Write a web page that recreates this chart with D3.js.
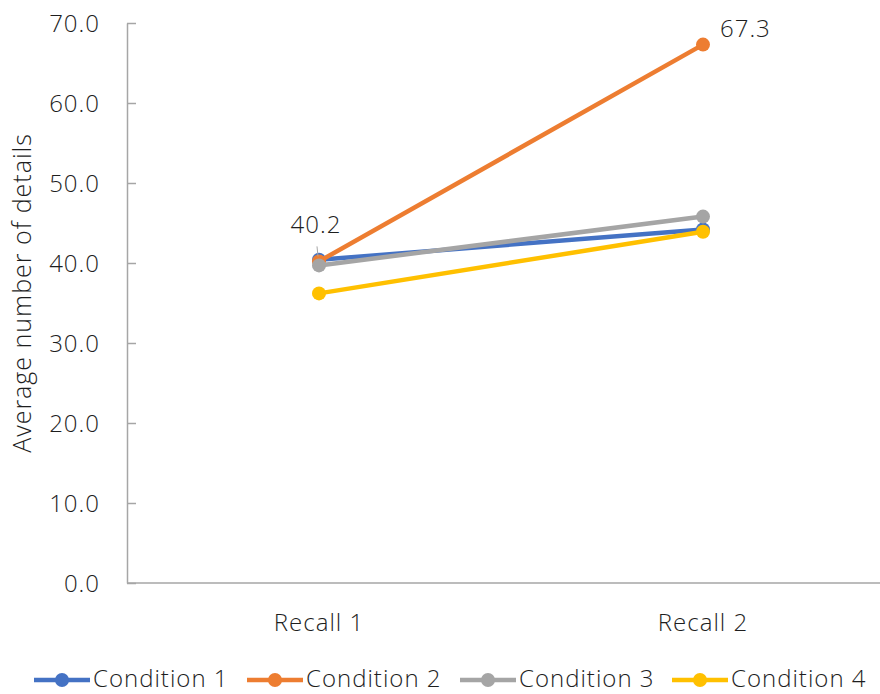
<!DOCTYPE html>
<html><head><meta charset="utf-8">
<script src="https://cdn.jsdelivr.net/npm/d3@7"></script>
<style>
body{margin:0;background:#fff;}
svg text{font-family:"Open Sans","Noto Sans",sans-serif;font-weight:300;fill:#1e1e1e;letter-spacing:1px;}
</style></head>
<body><svg id="chart" width="880" height="694"></svg>
<script>
const categories = ["Recall 1", "Recall 2"];
const seriesNames = ["Condition 1", "Condition 2", "Condition 3", "Condition 4"];
const condition1 = [40.4, 44.2];
const condition2 = [40.2, 67.3];
const condition3 = [39.7, 45.8];
const condition4 = [36.2, 43.9];
const yTicks = [0, 10, 20, 30, 40, 50, 60, 70];
const colors = ["#4472C4", "#ED7D31", "#A5A5A5", "#FFC000"];
const labelled = [{series: 1, index: 0, text: "40.2"}, {series: 1, index: 1, text: "67.3"}];

const series = [condition1, condition2, condition3, condition4].map((v, i) => ({name: seriesNames[i], values: v, color: colors[i]}));

const svg = d3.select("#chart");
const mLeft = 127, mRight = 895, mTop = 23, mBottom = 583;
const fs = 24;
const x = d3.scalePoint().domain(categories).range([mLeft, mRight]).padding(0.5);
const y = d3.scaleLinear().domain([0, 70]).range([mBottom, mTop]);

// x axis line
svg.append("line").attr("x1", mLeft).attr("x2", 880).attr("y1", mBottom).attr("y2", mBottom)
  .attr("stroke", "#A6A6A6").attr("stroke-width", 1.5);
// y axis
const yAxis = d3.axisLeft(y).tickValues(yTicks).tickFormat(d3.format(".1f")).tickSizeInner(-9).tickSizeOuter(0).tickPadding(27);
const gy = svg.append("g").attr("transform", `translate(${mLeft},0)`).call(yAxis);
gy.select(".domain").attr("stroke", "#A6A6A6").attr("stroke-width", 1.5);
gy.selectAll(".tick line").attr("stroke", "#A6A6A6").attr("stroke-width", 1.5);
gy.selectAll(".tick text").attr("font-size", fs).attr("dy", "0.34em").style("fill", "#1e1e1e");
gy.attr("font-family", null).attr("font-size", null);

// x labels
svg.append("g").selectAll("text").data(categories).join("text")
  .attr("x", d => x(d)).attr("y", 631).attr("text-anchor", "middle").attr("font-size", fs).text(d => d);

// y title
svg.append("text").attr("transform", `translate(31,293) rotate(-90)`)
  .attr("text-anchor", "middle").attr("font-size", 25).text("Average number of details");

// lines
const line = d3.line().x((d, i) => x(categories[i])).y(d => y(d));
series.forEach(s => {
  const g = svg.append("g");
  g.append("path").attr("d", line(s.values)).attr("fill", "none").attr("stroke", s.color)
    .attr("stroke-width", 4.5).attr("stroke-linecap", "round");
  g.selectAll("circle").data(s.values).join("circle")
    .attr("cx", (d, i) => x(categories[i])).attr("cy", d => y(d)).attr("r", 7).attr("fill", s.color);
});

// data labels
const l1 = labelled[0];
svg.append("line").attr("x1", x(categories[l1.index]) - 2).attr("y1", y(series[l1.series].values[l1.index]) - 15)
  .attr("x2", x(categories[l1.index]) - 1).attr("y2", y(series[l1.series].values[l1.index]) - 5)
  .attr("stroke", "#A6A6A6").attr("stroke-width", 1);
svg.append("text").attr("x", x(categories[l1.index]) - 3).attr("y", y(series[l1.series].values[l1.index]) - 28)
  .attr("text-anchor", "middle").attr("font-size", fs).text(l1.text);
const l2 = labelled[1];
svg.append("text").attr("x", x(categories[l2.index]) + 17).attr("y", y(series[l2.series].values[l2.index]) - 8)
  .attr("text-anchor", "start").attr("font-size", fs).text(l2.text);

// legend
const legendX = [34, 247, 460, 672];
const lg = svg.append("g").selectAll("g").data(series).join("g")
  .attr("transform", (d, i) => `translate(${legendX[i]},680)`);
lg.append("line").attr("x1", 0).attr("x2", 56).attr("stroke", d => d.color).attr("stroke-width", 4.5);
lg.append("circle").attr("cx", 28).attr("r", 7).attr("fill", d => d.color);
lg.append("text").attr("x", 59).attr("y", 7).attr("font-size", fs).text(d => d.name);
</script></body></html>
